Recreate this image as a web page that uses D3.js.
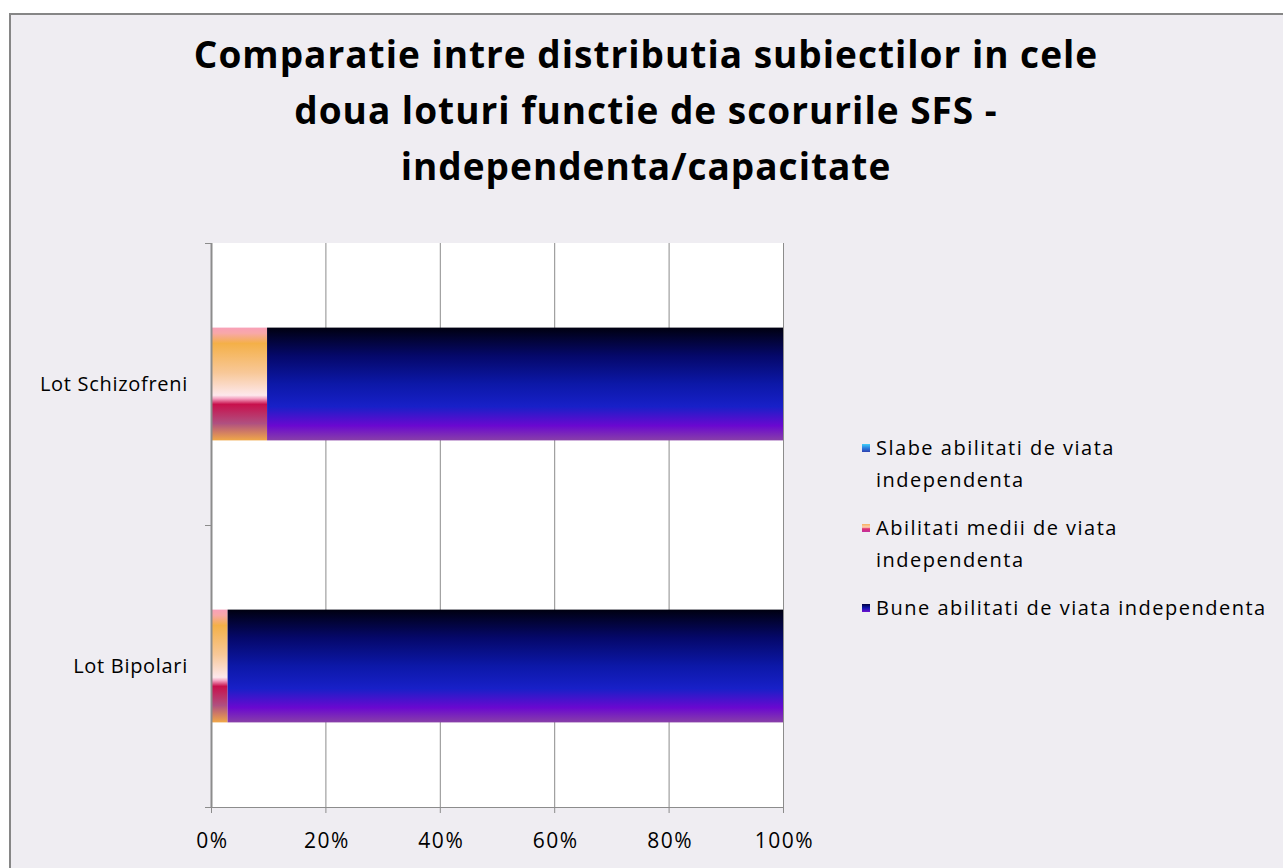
<!DOCTYPE html>
<html><head><meta charset="utf-8">
<script src="https://cdn.jsdelivr.net/npm/d3@7"></script>
<style>
html,body{margin:0;padding:0;background:#fff;}
svg{display:block;}
text{font-family:"Open Sans", sans-serif; font-variant-ligatures:none;}
</style></head>
<body>
<svg id="c" width="1283" height="868"></svg>
<script>
const titleLines = ["Comparatie intre distributia subiectilor in cele","doua loturi functie de scorurile SFS -","independenta/capacitate"];
const categories = ["Lot Schizofreni","Lot Bipolari"];
const seriesNames = ["Slabe abilitati de viata independenta","Abilitati medii de viata independenta","Bune abilitati de viata independenta"];
const slabe = [0, 0];
const medii = [9.8, 2.9];
const bune = [90.2, 97.1];
const tickLabels = ["0%","20%","40%","60%","80%","100%"];
const tickValues = [0,20,40,60,80,100];
const legendLines = [["Slabe abilitati de viata","independenta"],["Abilitati medii de viata","independenta"],["Bune abilitati de viata independenta"]];

const svg = d3.select("#c");
const defs = svg.append("defs");
function grad(id, stops){
  const g = defs.append("linearGradient").attr("id",id).attr("x1",0).attr("y1",0).attr("x2",0).attr("y2",1);
  stops.forEach(s=>g.append("stop").attr("offset",s[0]).attr("stop-color",s[1]));
}
grad("gSlabe",[[0,"#40d0f8"],[0.5,"#2a80e0"],[1,"#3040b0"]]);
grad("gMedii",[[0,"#f8a0b8"],[0.05,"#f8a8a8"],[0.14,"#f4b048"],[0.4,"#f8c898"],[0.6,"#fde8ec"],[0.63,"#f4a0c0"],[0.68,"#c8104c"],[0.85,"#b05080"],[1,"#f0a848"]]);
grad("gBune",[[0,"#000010"],[0.25,"#05086a"],[0.5,"#0c18a8"],[0.7,"#1820c8"],[0.87,"#6a08d0"],[1,"#8840a8"]]);
grad("lSlabe",[[0,"#40d0f8"],[0.5,"#2a80e0"],[1,"#3040b0"]]);
grad("lMedii",[[0,"#f8b060"],[0.4,"#fcd0b0"],[0.6,"#e03070"],[1,"#c030a0"]]);
grad("lBune",[[0,"#000040"],[0.5,"#1018b0"],[1,"#7010d0"]]);
const fills = ["url(#gSlabe)","url(#gMedii)","url(#gBune)"];
const legFills = ["url(#lSlabe)","url(#lMedii)","url(#lBune)"];

svg.append("rect").attr("x",0).attr("y",0).attr("width",1283).attr("height",868).attr("fill","#ffffff");
svg.append("rect").attr("x",10).attr("y",14).attr("width",1290).attr("height",870).attr("fill","#efedf2").attr("stroke","#868686").attr("stroke-width",2);

// title
svg.append("g").selectAll("text").data(titleLines).join("text")
  .attr("x",646).attr("y",(d,i)=>68+i*56).attr("text-anchor","middle")
  .attr("font-size",37).attr("font-weight","bold").attr("letter-spacing","1px").attr("fill","#000").text(d=>d);

const m = {left:211, right:783, top:243, bottom:807};
const x = d3.scaleLinear().domain([0,100]).range([m.left,m.right]);
const y = d3.scaleBand().domain(categories).range([m.top,m.bottom]).paddingInner(0.6).paddingOuter(0.3);

svg.append("rect").attr("x",m.left).attr("y",m.top).attr("width",m.right-m.left).attr("height",m.bottom-m.top).attr("fill","#fff");

svg.append("g").selectAll("line").data(tickValues.slice(1)).join("line")
  .attr("x1",d=>x(d)+0.5).attr("x2",d=>x(d)+0.5).attr("y1",m.top).attr("y2",m.bottom)
  .attr("stroke","#8c8c8c").attr("stroke-width",1);

const table = categories.map((c,i)=>({cat:c, s0:slabe[i], s1:medii[i], s2:bune[i]}));
const stack = d3.stack().keys(["s0","s1","s2"])(table);
svg.append("g").selectAll("g").data(stack).join("g").attr("fill",(d,i)=>fills[i])
  .selectAll("rect").data(d=>d).join("rect")
  .attr("x",d=>x(d[0])).attr("y",d=>y(d.data.cat))
  .attr("width",d=>Math.max(0,x(d[1])-x(d[0]))).attr("height",y.bandwidth());

const xa = svg.append("g").attr("transform",`translate(0,${m.bottom})`)
  .call(d3.axisBottom(x).tickValues(tickValues).tickFormat((d,i)=>tickLabels[i]).tickSize(6).tickSizeOuter(0));
xa.select(".domain").attr("stroke","#8c8c8c").attr("d",`M${m.left-6},0.5H${m.right}`);
xa.selectAll(".tick line").attr("stroke","#8c8c8c");
xa.selectAll(".tick text").attr("font-size",21).attr("fill","#000").attr("y",25).attr("dy","0.75em")
  .attr("dx","1px").attr("font-family","'Open Sans', sans-serif").attr("letter-spacing","1.5px");

const yEdges = [m.top, (m.top+m.bottom)/2, m.bottom];
const yg = svg.append("g");
yg.append("line").attr("x1",m.left+0.5).attr("x2",m.left+0.5).attr("y1",m.top).attr("y2",m.bottom).attr("stroke","#8c8c8c").attr("stroke-width",2);
yg.selectAll("line.t").data(yEdges).join("line").attr("class","t")
  .attr("x1",m.left-6).attr("x2",m.left).attr("y1",d=>d+0.5).attr("y2",d=>d+0.5).attr("stroke","#8c8c8c");
yg.selectAll("text").data(categories).join("text")
  .attr("x",188).attr("y",d=>y(d)+y.bandwidth()/2).attr("dy","0.35em").attr("text-anchor","end")
  .attr("font-size",20).attr("letter-spacing","0.7px").attr("fill","#000").text(d=>d);

const legY = [448, 528, 608];
const lg = svg.append("g");
seriesNames.forEach((n,i)=>{
  lg.append("rect").attr("x",862).attr("y",legY[i]-4).attr("width",8).attr("height",8).attr("fill",legFills[i]);
  legendLines[i].forEach((l,j)=>{
    lg.append("text").attr("x",876).attr("y",legY[i]+j*32).attr("dy","0.35em")
      .attr("font-size",20).attr("letter-spacing","1.5px").attr("fill","#000").text(l);
  });
});
</script>
</body></html>
